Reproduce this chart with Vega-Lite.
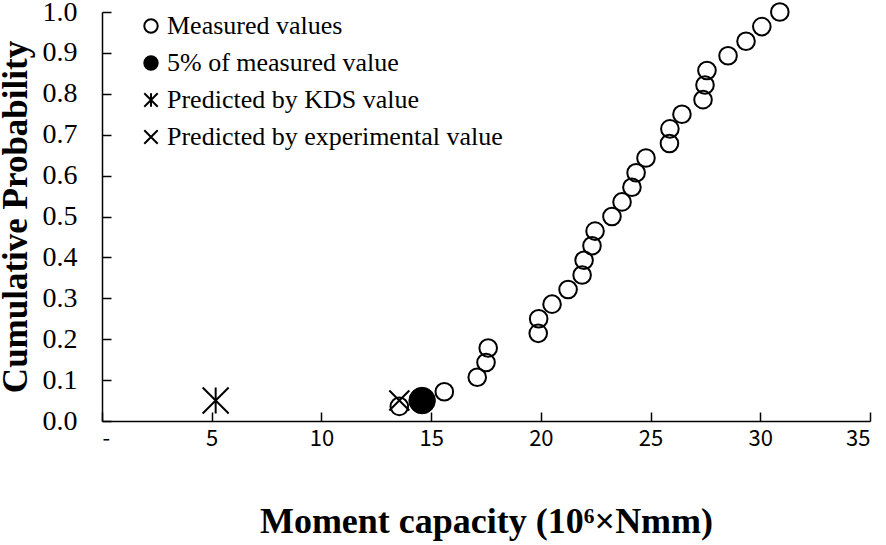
{
  "$schema": "https://vega.github.io/schema/vega-lite/v6.json",
  "width": 768,
  "height": 409,
  "autosize": {"type": "none"},
  "padding": {"left": 102, "top": 12, "right": 16, "bottom": 124},
  "background": "white",
  "config": {
    "view": {"stroke": null},
    "axis": {"grid": false, "domainColor": "black", "domainWidth": 1.5, "tickColor": "black", "tickWidth": 1.5, "labelColor": "black", "titleColor": "black"},
    "legend": {
      "title": null, "orient": "none", "legendX": 36, "legendY": 1,
      "labelFont": "Liberation Serif", "labelFontSize": 26, "labelColor": "black", "labelLimit": 0,
      "symbolSize": 180, "symbolStrokeWidth": 2, "symbolStrokeColor": "black",
      "rowPadding": 11, "labelOffset": 3
    }
  },
  "data": {
    "values": [
      {"series": "Measured values", "x": 13.55, "y": 0.0357},
      {"series": "Measured values", "x": 15.6, "y": 0.0714},
      {"series": "Measured values", "x": 17.1, "y": 0.1071},
      {"series": "Measured values", "x": 17.5, "y": 0.1429},
      {"series": "Measured values", "x": 17.6, "y": 0.1786},
      {"series": "Measured values", "x": 19.88, "y": 0.2143},
      {"series": "Measured values", "x": 19.9, "y": 0.25},
      {"series": "Measured values", "x": 20.51, "y": 0.2857},
      {"series": "Measured values", "x": 21.24, "y": 0.3214},
      {"series": "Measured values", "x": 21.88, "y": 0.3571},
      {"series": "Measured values", "x": 21.97, "y": 0.3929},
      {"series": "Measured values", "x": 22.33, "y": 0.4286},
      {"series": "Measured values", "x": 22.47, "y": 0.4643},
      {"series": "Measured values", "x": 23.24, "y": 0.5},
      {"series": "Measured values", "x": 23.7, "y": 0.5357},
      {"series": "Measured values", "x": 24.15, "y": 0.5714},
      {"series": "Measured values", "x": 24.34, "y": 0.6071},
      {"series": "Measured values", "x": 24.79, "y": 0.6429},
      {"series": "Measured values", "x": 25.86, "y": 0.6786},
      {"series": "Measured values", "x": 25.88, "y": 0.7143},
      {"series": "Measured values", "x": 26.43, "y": 0.75},
      {"series": "Measured values", "x": 27.39, "y": 0.7857},
      {"series": "Measured values", "x": 27.48, "y": 0.8214},
      {"series": "Measured values", "x": 27.57, "y": 0.8571},
      {"series": "Measured values", "x": 28.53, "y": 0.8929},
      {"series": "Measured values", "x": 29.35, "y": 0.9286},
      {"series": "Measured values", "x": 30.07, "y": 0.9643},
      {"series": "Measured values", "x": 30.89, "y": 1.0},
      {"series": "Predicted by experimental value", "x": 13.55, "y": 0.05},
      {"series": "Predicted by KDS value", "x": 5.18, "y": 0.05},
      {"series": "5% of measured value", "x": 14.59, "y": 0.05}
    ]
  },
  "encoding": {
    "x": {
      "field": "x", "type": "quantitative",
      "scale": {"domain": [0, 35], "nice": false, "zero": false},
      "axis": {
        "values": [0, 5, 10, 15, 20, 25, 30, 35],
        "labelExpr": "datum.value == 0 ? '-' : datum.label",
        "tickSize": -9, "labelPadding": 16,
        "labelFont": "Noto Sans CJK KR", "labelFontSize": 22,
        "title": "Moment capacity (10⁶×Nmm)",
        "titleFont": "Liberation Serif", "titleFontSize": 36, "titleFontWeight": "bold",
        "titlePadding": 55
      }
    },
    "y": {
      "field": "y", "type": "quantitative",
      "scale": {"domain": [0, 1], "nice": false},
      "axis": {
        "values": [0, 0.1, 0.2, 0.3, 0.4, 0.5, 0.6, 0.7, 0.8, 0.9, 1.0],
        "format": ".1f",
        "tickSize": -9, "labelPadding": 34,
        "labelFont": "Liberation Serif", "labelFontSize": 28,
        "title": "Cumulative Probability",
        "titleFont": "Liberation Serif", "titleFontSize": 35, "titleFontWeight": "bold",
        "titlePadding": 9
      }
    },
    "shape": {
      "field": "series", "type": "nominal",
      "scale": {
        "domain": ["Measured values", "5% of measured value", "Predicted by KDS value", "Predicted by experimental value"],
        "range": ["circle", "circle", "M-1,-1L1,1M-1,1L1,-1M0,-1L0,1", "M-1,-1L1,1M-1,1L1,-1"]
      }
    },
    "fill": {
      "field": "series", "type": "nominal",
      "scale": {
        "domain": ["Measured values", "5% of measured value", "Predicted by KDS value", "Predicted by experimental value"],
        "range": ["transparent", "black", "transparent", "transparent"]
      }
    },
    "stroke": {
      "field": "series", "type": "nominal",
      "scale": {
        "domain": ["Measured values", "5% of measured value", "Predicted by KDS value", "Predicted by experimental value"],
        "range": ["black", "black", "black", "black"]
      }
    }
  },
  "layer": [
    {
      "transform": [{"filter": "datum.series === 'Measured values'"}],
      "mark": {"type": "point", "filled": false, "strokeWidth": 2, "opacity": 1, "size": 310}
    },
    {
      "transform": [{"filter": "datum.series === 'Predicted by experimental value'"}],
      "mark": {"type": "point", "filled": false, "strokeWidth": 2, "opacity": 1, "size": 400}
    },
    {
      "transform": [{"filter": "datum.series === 'Predicted by KDS value'"}],
      "mark": {"type": "point", "filled": false, "strokeWidth": 2, "opacity": 1, "size": 676}
    },
    {
      "transform": [{"filter": "datum.series === '5% of measured value'"}],
      "mark": {"type": "point", "filled": true, "strokeWidth": 1, "opacity": 1, "size": 700}
    }
  ]
}
